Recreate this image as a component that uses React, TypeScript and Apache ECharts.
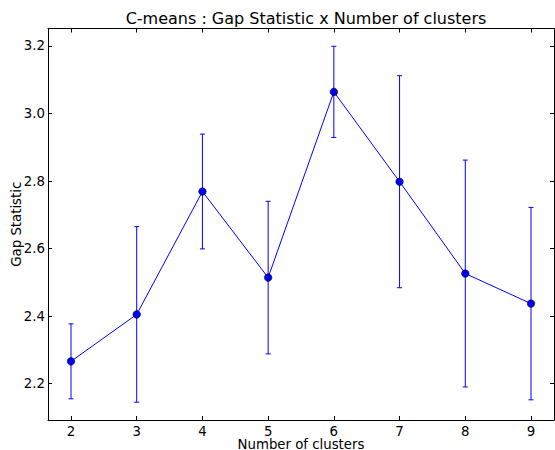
import React, { useEffect, useRef } from "react";
import * as echarts from "echarts";

// Number of clusters tried by C-means
const clusters = [2, 3, 4, 5, 6, 7, 8, 9];
// Gap statistic for each cluster count
const gapValues = [2.266, 2.405, 2.769, 2.514, 3.064, 2.798, 2.526, 2.437];
// Standard error of each gap value (symmetric error bars)
const gapErrors = [0.111, 0.26, 0.17, 0.226, 0.135, 0.314, 0.336, 0.285];
// Tick positions shown on the axes
const xTicks = [2, 3, 4, 5, 6, 7, 8, 9];
const yTicks = [2.2, 2.4, 2.6, 2.8, 3.0, 3.2];

const FONT = "DejaVu Sans";
const LABEL_SIZE = 13.3;

export default function App() {
  const ref = useRef<HTMLDivElement>(null);

  useEffect(() => {
    if (!ref.current) return;
    const chart = echarts.init(ref.current, null, { renderer: "svg" });

    const errData = clusters.map((c, i) => [c, gapValues[i] - gapErrors[i], gapValues[i] + gapErrors[i]]);
    const lineData = clusters.map((c, i) => [c, gapValues[i]]);

    const lows = errData.map((d) => d[1]);
    const highs = errData.map((d) => d[2]);
    const yLo = Math.min(...lows);
    const yHi = Math.max(...highs);
    const yPad = (yHi - yLo) * 0.05;
    const xPad = (clusters[clusters.length - 1] - clusters[0]) * 0.05;
    const xMin = clusters[0] - xPad;
    const xMax = clusters[clusters.length - 1] + xPad;
    const yMin = yLo - yPad;
    const yMax = yHi + yPad;

    const tickStyle = { show: true, inside: true, length: 4, lineStyle: { color: "#000", width: 1 } };
    const axisLine = { show: true, onZero: false, lineStyle: { color: "#000", width: 1 } };

    const xAxisBase = {
      type: "value",
      min: xMin,
      max: xMax,
      axisLine,
      splitLine: { show: false },
    };
    const yAxisBase = {
      type: "value",
      min: yMin,
      max: yMax,
      axisLine,
      splitLine: { show: false },
    };

    chart.setOption({
      animation: false,
      backgroundColor: "#fff",
      title: {
        text: "C-means : Gap Statistic x Number of clusters",
        left: 301,
        textAlign: "center",
        top: 5,
        textStyle: { fontFamily: FONT, fontSize: 16, fontWeight: "normal", color: "#000" },
      },
      grid: {
        left: 48,
        right: 1,
        top: 28.5,
        bottom: 30,
        containLabel: false,
        outerBoundsMode: "none",
      },
      xAxis: [
        {
          ...xAxisBase,
          position: "bottom",
          name: "Number of clusters",
          nameLocation: "middle",
          nameGap: 19,
          nameMoveOverlap: false,
          nameTextStyle: { fontFamily: FONT, fontSize: LABEL_SIZE, color: "#000", lineHeight: 11 },
          axisTick: { ...tickStyle, customValues: xTicks },
          axisLabel: {
            customValues: xTicks,
            fontFamily: FONT,
            fontSize: LABEL_SIZE,
            lineHeight: 11,
            color: "#000",
            margin: 6,
            formatter: (v: number) => String(v),
          },
        },
        {
          ...xAxisBase,
          position: "top",
          axisTick: { ...tickStyle, customValues: xTicks },
          axisLabel: { show: false },
        },
      ],
      yAxis: [
        {
          ...yAxisBase,
          position: "left",
          name: "Gap Statistic",
          nameLocation: "middle",
          nameGap: 25,
          nameMoveOverlap: false,
          nameRotate: 90,
          nameTextStyle: { fontFamily: FONT, fontSize: LABEL_SIZE, color: "#000" },
          axisTick: { ...tickStyle, customValues: yTicks },
          axisLabel: {
            customValues: yTicks,
            fontFamily: FONT,
            fontSize: LABEL_SIZE,
            color: "#000",
            margin: 3,
            formatter: (v: number) => v.toFixed(1),
          },
        },
        {
          ...yAxisBase,
          position: "right",
          axisTick: { ...tickStyle, customValues: yTicks },
          axisLabel: { show: false },
        },
      ],
      series: [
        {
          type: "custom",
          xAxisIndex: 0,
          yAxisIndex: 0,
          data: errData,
          z: 1,
          encode: { x: 0, y: [1, 2] },
          renderItem: (params: any, api: any) => {
            const x = api.value(0);
            const lo = api.coord([x, api.value(1)]);
            const hi = api.coord([x, api.value(2)]);
            const cap = 2.5;
            const style = { stroke: "#0000ff", lineWidth: 1 };
            return {
              type: "group",
              children: [
                { type: "line", shape: { x1: lo[0], y1: lo[1], x2: hi[0], y2: hi[1] }, style },
                { type: "line", shape: { x1: lo[0] - cap, y1: lo[1], x2: lo[0] + cap, y2: lo[1] }, style },
                { type: "line", shape: { x1: hi[0] - cap, y1: hi[1], x2: hi[0] + cap, y2: hi[1] }, style },
              ],
            };
          },
        },
        {
          type: "line",
          xAxisIndex: 0,
          yAxisIndex: 0,
          data: lineData,
          z: 2,
          symbol: "circle",
          symbolSize: 7.5,
          showAllSymbol: true,
          lineStyle: { color: "#0000ff", width: 1 },
          itemStyle: { color: "#0000ff", borderColor: "#000", borderWidth: 0.6 },
        },
      ],
    });

    return () => chart.dispose();
  }, []);

  return (
    <div
      ref={ref}
      style={{ position: "absolute", left: 0, top: 0, width: 555, height: 450, background: "#fff" }}
    />
  );
}
